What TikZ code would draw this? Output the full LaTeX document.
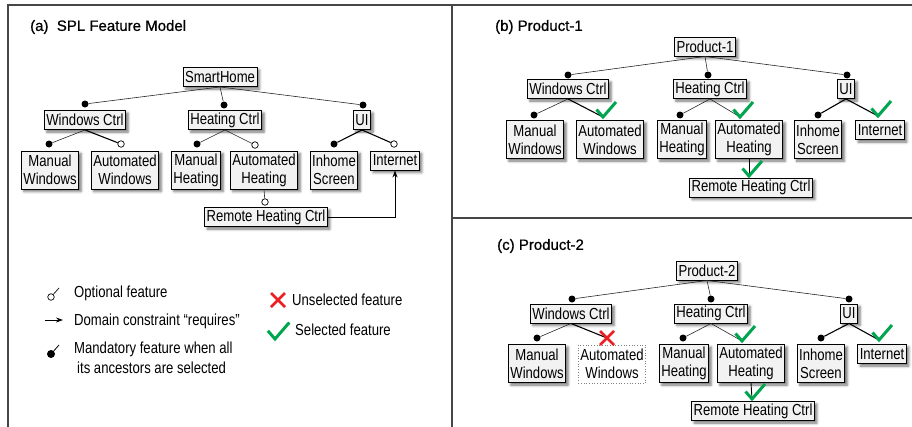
\documentclass[tikz,border=0pt]{standalone}
\usepackage{fontspec}
\setmainfont{Liberation Sans}[FakeStretch=0.82]
\newfontfamily\ttlfont{Liberation Sans}[FakeBold=0.8]
\usetikzlibrary{shadows.blur,arrows.meta,calc}
\definecolor{boxfill}{RGB}{242,242,242}
\definecolor{okgreen}{RGB}{0,165,80}
\definecolor{nored}{RGB}{235,30,35}
\definecolor{framecol}{RGB}{70,70,70}
\tikzset{
  fbox/.style={draw=black, line width=0.9pt, fill=boxfill, inner xsep=2pt, inner ysep=1pt,
    minimum height=19pt, align=center,
    blur shadow={shadow xshift=2.5pt, shadow yshift=-2.5pt, shadow blur radius=2.5pt, shadow opacity=55}},
  two/.style={minimum height=38pt},
  unsel/.style={draw=gray, dotted, line width=0.7pt, fill=white, inner xsep=2pt, inner ysep=1pt,
    minimum height=38pt, align=center},
  mand/.style={circle, fill=black, inner sep=0pt, minimum size=7pt},
  opt/.style={circle, draw=black, fill=white, line width=0.7pt, inner sep=0pt, minimum size=6.5pt},
  thinl/.style={draw=black!85, line width=0.6pt},
  thickl/.style={draw=black, line width=1.1pt},
  ttl/.style={anchor=west, inner sep=0pt, font=\ttlfont\fontsize{15}{18}\selectfont},
  leg/.style={anchor=west, inner sep=0pt},
  pics/checkm/.style={code={\draw[okgreen, line width=3pt, line join=miter] (-6.5,-7.5) -- (0,0) -- (13,-15);}},
  pics/crossm/.style={code={\draw[nored, line width=2.5pt] (-7,-7) -- (7,7) (-7,7) -- (7,-7);}},
}
\begin{document}
\begin{tikzpicture}[x=1pt, y=-1pt, font=\fontsize{16}{18}\selectfont]
\useasboundingbox (0,0) rectangle (912,426);
% frames
\draw[framecol, line width=1.3pt] (8,430) -- (8,5) -- (912,5);
\draw[framecol, line width=1.3pt] (452,5) -- (452,430);
\draw[framecol, line width=1.3pt] (452,218) -- (912,218);

% ================= (a) =================
\node[ttl] (ta) at (30,27) {(a)\ \ SPL Feature Model};
\node[fbox] (sh) at (220,77) {SmartHome};
\node[fbox] (wc) at (85,120) {Windows Ctrl};
\node[fbox] (hc) at (225,120) {Heating Ctrl};
\node[fbox] (ui) at (362,120) {UI};
\node[fbox,two] (mw) at (50,170) {Manual\\Windows};
\node[fbox,two] (aw) at (125,170) {Automated\\Windows};
\node[fbox,two] (mh) at (196,170) {Manual\\Heating};
\node[fbox,two] (ah) at (264,170) {Automated\\Heating};
\node[fbox,two] (is) at (334,170) {Inhome\\Screen};
\node[fbox] (in) at (395,160.5) {Internet};
\node[fbox] (rh) at (266,217) {Remote Heating Ctrl};

\node[mand] (a1) at (85,104) {};
\node[mand] (a2) at (224,105) {};
\node[mand] (a3) at (363,105) {};
\node[mand] (a4) at (49,144) {};
\node[opt]  (a5) at (121,144) {};
\node[mand] (a6) at (197,144) {};
\node[opt]  (a7) at (255,145) {};
\node[mand] (a8) at (334,144) {};
\node[opt]  (a9) at (394,144) {};
\node[opt]  (a10) at (265,202) {};

\draw[thinl] (sh.south) -- (a1);
\draw[thinl] (sh.south) -- (a2);
\draw[thinl] (sh.south) -- (a3);
\draw[thinl] (wc.south) -- (a4);
\draw[thickl] (wc.south) -- (a5);
\draw[thinl] (hc.south) -- (a6);
\draw[thinl] (hc.south) -- (a7);
\draw[thickl] (ui.south) -- (a8);
\draw[thickl] (ui.south) -- (a9);
\draw[thinl] (ah.south) -- (a10);
\draw[thickl, line width=0.9pt, -{Stealth[length=7pt,width=5pt]}] (rh.east) -| (in.south);

% legend
\node[opt] (lo) at (51,297) {};
\coordinate (lo2) at (59,288);
\draw[thinl, line width=0.8pt] (lo) -- (lo2);
\node[leg] (lt1) at (74,293) {Optional feature};
\coordinate (la1) at (45,320);
\coordinate (la2) at (63,320);
\draw[line width=0.9pt, -{Stealth[length=7pt,width=5pt]}] (la1) -- (la2);
\node[leg] (lt2) at (74,321) {Domain constraint “requires”};
\node[mand, minimum size=8pt] (lm) at (51,354) {};
\coordinate (lm2) at (59,345);
\draw[line width=0.8pt] (lm) -- (lm2);
\node[leg] (lt3) at (74,349) {Mandatory feature when all};
\node[leg] (lt4) at (77,368) {its ancestors are selected};
\pic at (278,300) {crossm};
\node[leg] (lt5) at (292,300) {Unselected feature};
\pic[scale=1.1] at (275,339) {checkm};
\node[leg] (lt6) at (295,330) {Selected feature};

% ================= (b) =================
\node[ttl] (tb) at (495,27) {(b) Product-1};
\node[fbox] (p1) at (705,46.5) {Product-1};
\node[fbox] (bwc) at (568,89) {Windows Ctrl};
\node[fbox] (bhc) at (710,89) {Heating Ctrl};
\node[fbox] (bui) at (846,89) {UI};
\node[fbox,two] (bmw) at (535,139.5) {Manual\\Windows};
\node[fbox,two] (baw) at (610,139.5) {Automated\\Windows};
\node[fbox,two] (bmh) at (682,139.5) {Manual\\Heating};
\node[fbox,two] (bah) at (749,139.5) {Automated\\Heating};
\node[fbox,two] (bis) at (818,139.5) {Inhome\\Screen};
\node[fbox] (bin) at (880,130) {Internet};
\node[fbox] (brh) at (751,187.5) {Remote Heating Ctrl};

\node[mand] (b1) at (568,75) {};
\node[mand] (b2) at (708,75) {};
\node[mand] (b3) at (847,75) {};
\node[mand] (b4) at (534,115) {};
\node[mand] (b6) at (680,115) {};
\node[mand] (b8) at (818,115) {};
\coordinate (b5) at (603,117);
\coordinate (b7) at (740,117);
\coordinate (b9) at (878,116);
\coordinate (b10) at (749,176);

\draw[thinl] (p1.south) -- (b1);
\draw[thinl] (p1.south) -- (b2);
\draw[thinl] (p1.south) -- (b3);
\draw[thinl] (bwc.south) -- (b4);
\draw[thickl] (bwc.south) -- (b5);
\draw[thinl] (bhc.south) -- (b6);
\draw[thinl] (bhc.south) -- (b7);
\draw[thickl] (bui.south) -- (b8);
\draw[thickl] (bui.south) -- (b9);
\draw[thickl, line width=0.9pt] (bah.south) -- (b10);
\pic at (b5) {checkm};
\pic at (b7) {checkm};
\pic at (b9) {checkm};
\pic at (b10) {checkm};

% ================= (c) =================
\node[ttl] (tc) at (497,246) {(c) Product-2};
\node[fbox] (p2) at (707,270.5) {Product-2};
\node[fbox] (cwc) at (571,313.5) {Windows Ctrl};
\node[fbox] (chc) at (711,313.5) {Heating Ctrl};
\node[fbox] (cui) at (849,313.5) {UI};
\node[fbox,two] (cmw) at (537,363.5) {Manual\\Windows};
\node[unsel] (caw) at (612,364) {Automated\\Windows};
\node[fbox,two] (cmh) at (684,363.5) {Manual\\Heating};
\node[fbox,two] (cah) at (751,363.5) {Automated\\Heating};
\node[fbox,two] (cis) at (821,363.5) {Inhome\\Screen};
\node[fbox] (cin) at (882,354) {Internet};
\node[fbox] (crh) at (753,411) {Remote Heating Ctrl};

\node[mand] (c1) at (572,299) {};
\node[mand] (c2) at (711,299) {};
\node[mand] (c3) at (849,299) {};
\node[mand] (c4) at (537,338) {};
\node[mand] (c6) at (683,338) {};
\node[mand] (c8) at (821,338) {};
\coordinate (c5) at (607,338);
\coordinate (c7) at (742,341);
\coordinate (c9) at (879,340);
\coordinate (c10) at (752,399);

\draw[thinl] (p2.south) -- (c1);
\draw[thinl] (p2.south) -- (c2);
\draw[thinl] (p2.south) -- (c3);
\draw[thinl] (cwc.south) -- (c4);
\draw[thickl] (cwc.south) -- (c5);
\draw[thinl] (chc.south) -- (c6);
\draw[thinl] (chc.south) -- (c7);
\draw[thickl] (cui.south) -- (c8);
\draw[thickl] (cui.south) -- (c9);
\draw[thickl, line width=0.9pt] (cah.south) -- (c10);
\pic at (c5) {crossm};
\pic at (c7) {checkm};
\pic at (c9) {checkm};
\pic at (c10) {checkm};
\end{tikzpicture}
\end{document}
